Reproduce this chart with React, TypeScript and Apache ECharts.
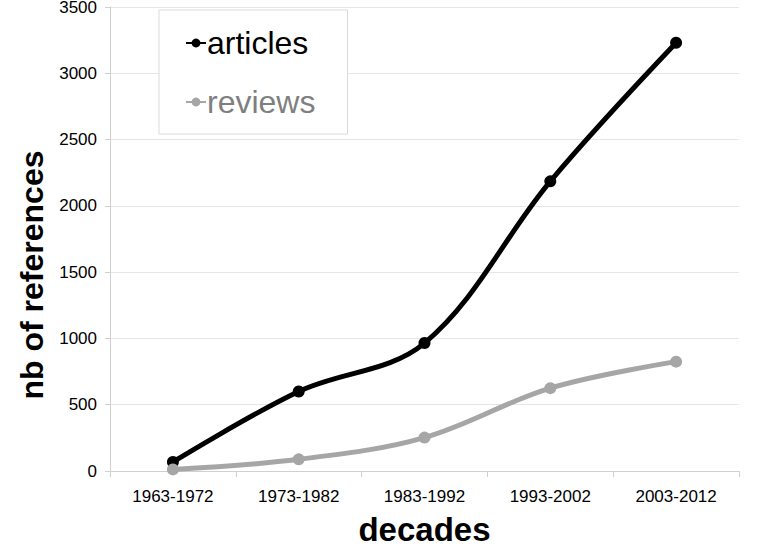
import React, { useEffect, useRef } from "react";
import * as echarts from "echarts";

const categories = ["1963-1972", "1973-1982", "1983-1992", "1993-2002", "2003-2012"];
const articles = [68, 600, 965, 2185, 3230];
const reviews = [12, 88, 252, 625, 825];
const yTicks = { min: 0, max: 3500, interval: 500 };

export default function App() {
  const ref = useRef<HTMLDivElement>(null);
  useEffect(() => {
    if (!ref.current) return;
    const chart = echarts.init(ref.current, undefined, { renderer: "svg" });
    const font = "'Liberation Sans', Arial, sans-serif";
    chart.setOption({
      animation: false,
      backgroundColor: "#ffffff",
      grid: { left: 110, right: 27, top: 7, bottom: 82, containLabel: false, outerBoundsMode: "none" },
      legend: {
        orient: "vertical",
        left: 159,
        top: 10,
        padding: [17, 32, 16, 26],
        itemGap: 27,
        itemWidth: 20,
        itemHeight: 11,
        backgroundColor: "#ffffff",
        borderColor: "#d9d9d9",
        borderWidth: 1,
        borderRadius: 0,
        textStyle: { fontFamily: font, fontSize: 32, padding: [0, 0, 0, -4] },
        data: [
          { name: "articles", textStyle: { color: "#000000" } },
          { name: "reviews", textStyle: { color: "#7f7f7f" } },
        ],
      },
      xAxis: {
        type: "category",
        data: categories,
        boundaryGap: true,
        axisLine: { lineStyle: { color: "#d0d0d0", width: 1 } },
        axisTick: { show: true, length: 6, lineStyle: { color: "#d0d0d0" } },
        axisLabel: { fontFamily: font, fontSize: 17, color: "#000", margin: 17 },
        name: "decades",
        nameLocation: "middle",
        nameGap: 42,
        nameTextStyle: { fontFamily: font, fontSize: 33, fontWeight: "bold", color: "#000" },
      },
      yAxis: {
        type: "value",
        min: yTicks.min,
        max: yTicks.max,
        interval: yTicks.interval,
        axisLine: { show: true, lineStyle: { color: "#d0d0d0", width: 1 } },
        axisTick: { show: true, length: 5, lineStyle: { color: "#d0d0d0" } },
        splitLine: { lineStyle: { color: "#e6e6e6", width: 1 } },
        axisLabel: { fontFamily: font, fontSize: 17, color: "#000", margin: 13, formatter: (v: number) => String(v) },
        name: "nb of references",
        nameLocation: "middle",
        nameGap: 62,
        nameRotate: 90,
        nameTextStyle: { fontFamily: font, fontSize: 32, fontWeight: "bold", color: "#000", padding: [0, 72, 0, 0] },
      },
      series: [
        {
          name: "articles",
          type: "line",
          data: articles,
          smooth: 0.35,
          symbol: "circle",
          symbolSize: 12,
          lineStyle: { color: "#000000", width: 5 },
          itemStyle: { color: "#000000" },
          z: 3,
        },
        {
          name: "reviews",
          type: "line",
          data: reviews,
          smooth: 0.35,
          symbol: "circle",
          symbolSize: 12,
          lineStyle: { color: "#a6a6a6", width: 5 },
          itemStyle: { color: "#a6a6a6" },
          z: 4,
        },
      ],
    });
    return () => chart.dispose();
  }, []);
  return <div ref={ref} style={{ width: 766, height: 553, position: "fixed", left: 0, top: 0 }} />;
}
